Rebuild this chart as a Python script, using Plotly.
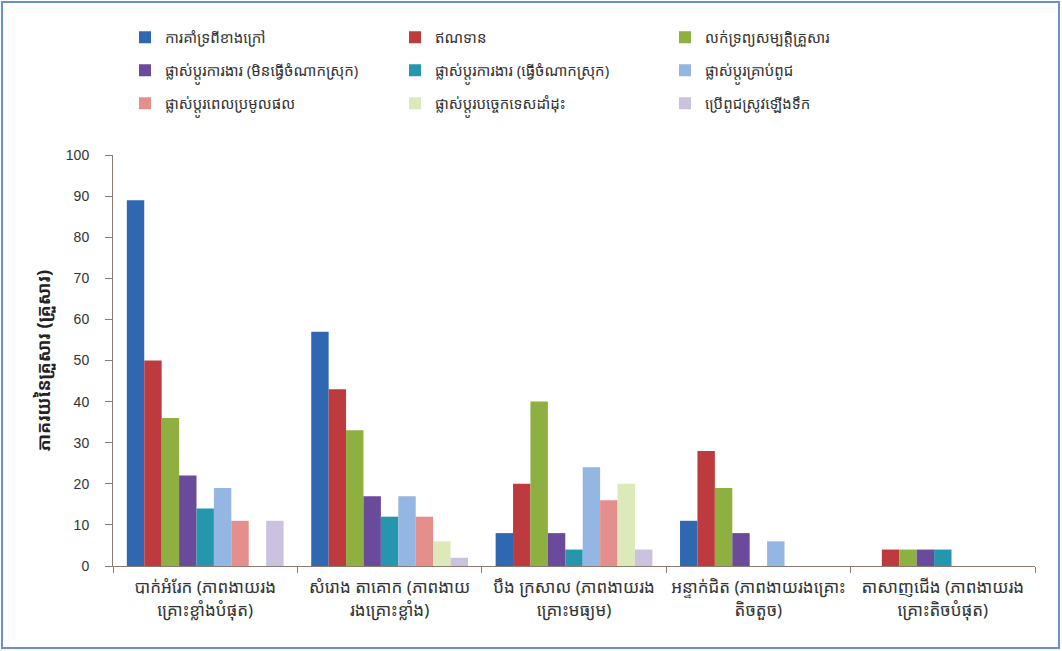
import plotly.graph_objects as go

categories = [
    "បាក់អំរែក (ភាពងាយរង<br>គ្រោះខ្លាំងបំផុត)",
    "សំរោង តាគោក (ភាពងាយ<br>រងគ្រោះខ្លាំង)",
    "បឹង ក្រសាល (ភាពងាយរង<br>គ្រោះមធ្យម)",
    "អន្ទាក់ជិត (ភាពងាយរងគ្រោះ<br>តិចតួច)",
    "តាសាញជើង (ភាពងាយរង<br>គ្រោះតិចបំផុត)",
]

series_names = [
    "ការគាំទ្រពីខាងក្រៅ",
    "ឥណទាន",
    "លក់ទ្រព្យសម្បត្តិគ្រួសារ",
    "ផ្លាស់ប្តូរការងារ (មិនធ្វើចំណាកស្រុក)",
    "ផ្លាស់ប្តូរការងារ (ធ្វើចំណាកស្រុក)",
    "ផ្លាស់ប្តូរគ្រាប់ពូជ",
    "ផ្លាស់ប្តូរពេលប្រមូលផល",
    "ផ្លាស់ប្តូរបច្ចេកទេសដាំដុះ",
    "ប្រើពូជស្រូវឡើងទឹក",
]

external_support = [89, 57, 8, 11, 0]
credit = [50, 43, 20, 28, 4]
sell_assets = [36, 33, 40, 19, 4]
job_no_migration = [22, 17, 8, 8, 4]
job_migration = [14, 12, 4, 0, 4]
change_seeds = [19, 17, 24, 6, 0]
change_harvest = [11, 12, 16, 0, 0]
change_technique = [0, 6, 20, 0, 0]
flood_rice = [11, 2, 4, 0, 0]

series_values = [
    external_support, credit, sell_assets, job_no_migration, job_migration,
    change_seeds, change_harvest, change_technique, flood_rice,
]

colors = ["#2F67B1", "#BD3A3F", "#8DB040", "#6A4A9A", "#2596AE",
          "#93B6E2", "#E58F8C", "#DCEAB9", "#CBC2DF"]

y_title = "ភាគរយនៃគ្រួសារ (គ្រួសារ)"
y_ticks = list(range(0, 101, 10))

font_family = "Noto Sans Khmer, Khmer OS, Noto Sans, DejaVu Sans, sans-serif"

legend_ids = ["legend", "legend", "legend", "legend2", "legend2", "legend2",
              "legend3", "legend3", "legend3"]

fig = go.Figure()
for name, vals, col, lg in zip(series_names, series_values, colors, legend_ids):
    fig.add_trace(go.Bar(name=name, x=categories, y=vals, legend=lg,
                         marker=dict(color=col, line=dict(width=0))))

def legend_row(top_px):
    return dict(orientation="h", x=0.013, xref="paper", xanchor="left",
                y=1 - top_px / 651, yref="container", yanchor="top",
                entrywidth=225, entrywidthmode="pixels", itemwidth=30,
                bgcolor="rgba(0,0,0,0)",
                font=dict(size=15, color="#333333"))

fig.update_layout(
    width=1062, height=651,
    barmode="group", bargap=0.15, bargroupgap=0,
    paper_bgcolor="white", plot_bgcolor="white",
    margin=dict(l=113, r=27, t=155, b=85, autoexpand=False),
    font=dict(family=font_family, size=13, color="#333333"),
    legend=legend_row(21),
    legend2=legend_row(54),
    legend3=legend_row(87),
    showlegend=True,
)

fig.update_xaxes(showline=True, linecolor="#8C7B70", linewidth=1,
                 ticks="outside", ticklen=6, tickcolor="#8C7B70",
                 tickson="boundaries", automargin=False, ticklabelstandoff=6,
                 tickfont=dict(size=17, color="#333333"),
                 showgrid=False, zeroline=False)
fig.update_yaxes(range=[0, 100], tickvals=y_ticks, showline=True,
                 linecolor="#8C7B70", linewidth=1, ticks="outside", ticklen=7,
                 tickcolor="#8C7B70", showgrid=False, zeroline=False,
                 automargin=False, ticklabelstandoff=13,
                 tickfont=dict(size=14, color="#333333",
                               family="Arial, Liberation Sans, sans-serif"),
                 title=dict(text="<b>" + y_title + "</b>",
                            font=dict(size=18, color="#222222"),
                            standoff=10))

fig.add_shape(type="rect", xref="paper", yref="paper",
              x0=-0.1204, x1=1.026, y0=-0.1995, y1=1.372,
              line=dict(color="#6A90C8", width=2), fillcolor="rgba(0,0,0,0)",
              layer="below")

fig.write_html("out.html", config={"displayModeBar": False},
               post_script="document.body.style.margin='0';document.body.style.padding='0';")
